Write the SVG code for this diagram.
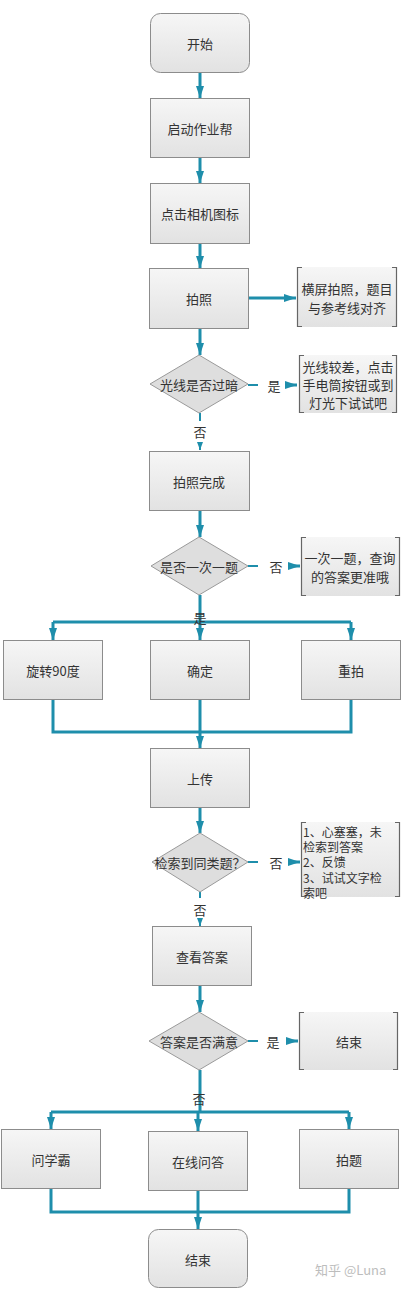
<svg xmlns="http://www.w3.org/2000/svg" width="401" height="1289" viewBox="0 0 401 1289">
<defs>
<linearGradient id="g" x1="0" y1="0" x2="0" y2="1">
<stop offset="0" stop-color="#f6f6f6"/>
<stop offset="1" stop-color="#e2e2e2"/>
</linearGradient>
<marker id="ah" viewBox="0 0 12 8" refX="12" refY="4" markerWidth="12" markerHeight="8" markerUnits="userSpaceOnUse" orient="auto">
<path d="M0,0 L12,4 L0,8 Z" fill="#1e8eab"/>
</marker>
<marker id="sh" viewBox="0 0 8 6" refX="8" refY="3" markerWidth="8" markerHeight="6" markerUnits="userSpaceOnUse" orient="auto">
<path d="M0,0 L8,3 L0,6 Z" fill="#1e8eab"/>
</marker>
</defs>
<style>
.box{fill:url(#g);stroke:#8c8c8c;stroke-width:1}
.dia{fill:#dedede;stroke:#9a9a9a;stroke-width:1}
.note{fill:url(#g);stroke:none}
.br{fill:none;stroke:#666;stroke-width:1.2}
.t{font-family:"Noto Sans CJK SC","Liberation Sans",sans-serif;font-size:13px;fill:#333;text-anchor:middle;dominant-baseline:central}
.tl{font-family:"Noto Sans CJK SC","Liberation Sans",sans-serif;font-size:12px;fill:#333;dominant-baseline:central}
.c{fill:none;stroke:#1e8eab;stroke-width:3}
.cs{fill:none;stroke:#1e8eab;stroke-width:2}
.wm{font-family:"Noto Sans CJK SC","Liberation Sans",sans-serif;font-size:13px;fill:#bdbdbd}
</style>
<g id="connectors">
<path class="c" d="M200,72 V98" marker-end="url(#ah)"/>
<path class="c" d="M200,157 V183" marker-end="url(#ah)"/>
<path class="c" d="M200,243 V268" marker-end="url(#ah)"/>
<path class="c" d="M248,298 H296" marker-end="url(#ah)"/>
<path class="c" d="M200,328 V355" marker-end="url(#ah)"/>
<path class="cs" d="M248,385 H258"/>
<path class="c" d="M288,385 H297" marker-end="url(#ah)"/>
<path class="cs" d="M200,413 V421"/>
<path class="cs" d="M200,442 V450" marker-end="url(#sh)"/>
<path class="c" d="M200,510 V537" marker-end="url(#ah)"/>
<path class="cs" d="M248,566 H258"/>
<path class="c" d="M290,566 H300" marker-end="url(#ah)"/>
<path class="c" d="M200,595 V622"/>
<path class="c" d="M53,622 H351"/>
<path class="c" d="M53,622 V640" marker-end="url(#ah)"/>
<path class="c" d="M200,622 V640" marker-end="url(#ah)"/>
<path class="c" d="M351,622 V640" marker-end="url(#ah)"/>
<path class="c" d="M53,699 V732 H351 V699"/>
<path class="c" d="M200,699 V748" marker-end="url(#ah)"/>
<path class="c" d="M200,807 V833" marker-end="url(#ah)"/>
<path class="cs" d="M248,862 H258"/>
<path class="c" d="M290,862 H300" marker-end="url(#ah)"/>
<path class="cs" d="M200,892 V898"/>
<path class="cs" d="M200,920 V926" marker-end="url(#sh)"/>
<path class="c" d="M200,985 V1012" marker-end="url(#ah)"/>
<path class="cs" d="M248,1041 H258"/>
<path class="c" d="M288,1041 H298" marker-end="url(#ah)"/>
<path class="c" d="M200,1070 V1112"/>
<path class="c" d="M51,1112 H349"/>
<path class="c" d="M51,1112 V1129" marker-end="url(#ah)"/>
<path class="c" d="M198,1112 V1131" marker-end="url(#ah)"/>
<path class="c" d="M349,1112 V1129" marker-end="url(#ah)"/>
<path class="c" d="M51,1188 V1212 H349 V1188"/>
<path class="c" d="M198,1190 V1229" marker-end="url(#ah)"/>
</g>
<g id="start"><rect class="box" x="150.5" y="13.5" width="99" height="59" rx="10"/><text class="t" x="200" y="43">开始</text></g>
<g id="launch"><rect class="box" x="150.5" y="98.5" width="99" height="59"/><text class="t" x="200" y="128">启动作业帮</text></g>
<g id="camera"><rect class="box" x="150.5" y="183.5" width="99" height="60"/><text class="t" x="200" y="213">点击相机图标</text></g>
<g id="photo"><rect class="box" x="149.5" y="268.5" width="99" height="60"/><text class="t" x="199" y="298">拍照</text></g>
<g id="note1"><rect class="note" x="297" y="267" width="100" height="60"/><path class="br" d="M302,267.5 H297.5 V326.5 H302 M392,267.5 H396.5 V326.5 H392"/><text class="t" x="347" y="288">横屏拍照，题目</text><text class="t" x="347" y="307">与参考线对齐</text></g>
<g id="dark"><path class="dia" d="M199,355 L248,384 L199,413 L150,384 Z"/><text class="t" x="199" y="384">光线是否过暗</text></g>
<g id="note2"><rect class="note" x="299" y="355" width="98" height="58"/><path class="br" d="M304,355.5 H299.5 V412.5 H304 M392,355.5 H396.5 V412.5 H392"/><text class="t" x="348" y="366">光线较差，点击</text><text class="t" x="348" y="384">手电筒按钮或到</text><text class="t" x="348" y="402">灯光下试试吧</text></g>
<g id="done"><rect class="box" x="149.5" y="451.5" width="100" height="59"/><text class="t" x="199" y="481">拍照完成</text></g>
<g id="single"><path class="dia" d="M199,537 L248,566 L199,595 L151,566 Z"/><text class="t" x="199" y="566">是否一次一题</text></g>
<g id="note3"><rect class="note" x="301" y="537" width="99" height="59"/><path class="br" d="M306,537.5 H301.5 V595.5 H306 M395,537.5 H399.5 V595.5 H395"/><text class="t" x="350" y="557">一次一题，查询</text><text class="t" x="350" y="576">的答案更准哦</text></g>
<g id="rotate"><rect class="box" x="3.5" y="640.5" width="99" height="59"/><text class="t" x="53" y="670">旋转90度</text></g>
<g id="confirm"><rect class="box" x="150.5" y="640.5" width="99" height="59"/><text class="t" x="200" y="670">确定</text></g>
<g id="retake"><rect class="box" x="301.5" y="640.5" width="99" height="59"/><text class="t" x="351" y="670">重拍</text></g>
<g id="upload"><rect class="box" x="150.5" y="748.5" width="99" height="59"/><text class="t" x="200" y="778">上传</text></g>
<g id="search"><path class="dia" d="M200,833 L248,862 L200,892 L152,862 Z"/><text class="t" x="200" y="862">检索到同类题？</text></g>
<g id="note4"><rect class="note" x="301" y="822" width="99" height="75"/><path class="br" d="M306,822.5 H301.5 V896.5 H306 M395,822.5 H399.5 V896.5 H395"/><text class="tl" x="303" y="831">1、心塞塞，未</text><text class="tl" x="303" y="846">检索到答案</text><text class="tl" x="303" y="861">2、反馈</text><text class="tl" x="303" y="877">3、试试文字检</text><text class="tl" x="303" y="892">索吧</text></g>
<g id="view"><rect class="box" x="152.5" y="926.5" width="99" height="59"/><text class="t" x="202" y="956">查看答案</text></g>
<g id="satisfied"><path class="dia" d="M199,1012 L248,1041 L199,1070 L149,1041 Z"/><text class="t" x="199" y="1041">答案是否满意</text></g>
<g id="end1"><rect class="note" x="299" y="1012" width="99" height="58"/><path class="br" d="M304,1012.5 H299.5 V1069.5 H304 M393,1012.5 H397.5 V1069.5 H393"/><text class="t" x="349" y="1041">结束</text></g>
<g id="ask"><rect class="box" x="1.5" y="1129.5" width="99" height="59"/><text class="t" x="51" y="1159">问学霸</text></g>
<g id="online"><rect class="box" x="148.5" y="1131.5" width="99" height="59"/><text class="t" x="198" y="1161">在线问答</text></g>
<g id="shoot"><rect class="box" x="299.5" y="1129.5" width="99" height="59"/><text class="t" x="349" y="1159">拍题</text></g>
<g id="end2"><rect class="box" x="148.5" y="1229.5" width="99" height="58" rx="10"/><text class="t" x="198" y="1259">结束</text></g>
<g id="labels">
<text class="t" x="274" y="385">是</text>
<text class="t" x="200" y="431">否</text>
<text class="t" x="276" y="566">否</text>
<text class="t" x="200" y="617">是</text>
<text class="t" x="276" y="862">否</text>
<text class="t" x="200" y="909">否</text>
<text class="t" x="273" y="1041">是</text>
<text class="t" x="199" y="1098">否</text>
</g>
<text class="wm" x="315" y="1275">知乎 @Luna</text>
</svg>
